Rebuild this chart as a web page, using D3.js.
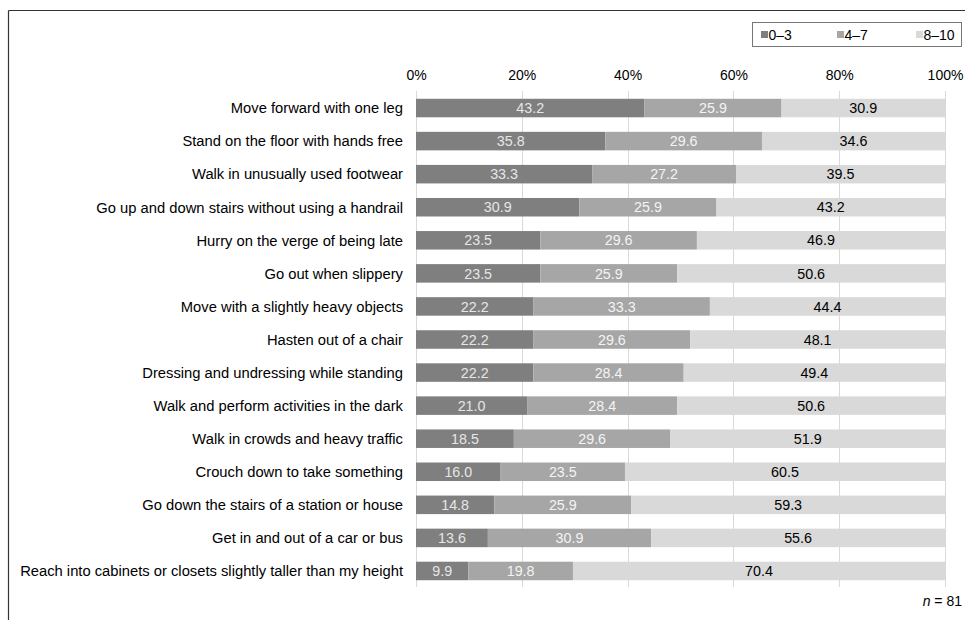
<!DOCTYPE html>
<html><head><meta charset="utf-8">
<script src="https://cdn.jsdelivr.net/npm/d3@7"></script>
<style>body{margin:0;background:#fff}svg{display:block;font-family:"Liberation Sans",Arial,sans-serif}</style>
</head><body>
<svg id="c" width="965" height="620"></svg>
<script>
const categories = [
  "Move forward with one leg",
  "Stand on the floor with hands free",
  "Walk in unusually used footwear",
  "Go up and down stairs without using a handrail",
  "Hurry on the verge of being late",
  "Go out when slippery",
  "Move with a slightly heavy objects",
  "Hasten out of a chair",
  "Dressing and undressing while standing",
  "Walk and perform activities in the dark",
  "Walk in crowds and heavy traffic",
  "Crouch down to take something",
  "Go down the stairs of a station or house",
  "Get in and out of a car or bus",
  "Reach into cabinets or closets slightly taller than my height"
];
const seriesNames = ["0\u20133", "4\u20137", "8\u201310"];
const low  = [43.2, 35.8, 33.3, 30.9, 23.5, 23.5, 22.2, 22.2, 22.2, 21.0, 18.5, 16.0, 14.8, 13.6, 9.9];
const mid  = [25.9, 29.6, 27.2, 25.9, 29.6, 25.9, 33.3, 29.6, 28.4, 28.4, 29.6, 23.5, 25.9, 30.9, 19.8];
const high = [30.9, 34.6, 39.5, 43.2, 46.9, 50.6, 44.4, 48.1, 49.4, 50.6, 51.9, 60.5, 59.3, 55.6, 70.4];
const tickValues = [0, 20, 40, 60, 80, 100];
const nNote = "81";

const colors = ["#7f7f7f", "#a6a6a6", "#d9d9d9"];
const textColors = ["#e6e6e6", "#f4f4f4", "#000"];

const svg = d3.select("#c");
const x = d3.scaleLinear().domain([0, 100]).range([416, 945]);
const y = d3.scaleBand().domain(categories).range([91.5, 587.5]).paddingInner(0.44).paddingOuter(0.22);

// frame
svg.append("line").attr("x1", 8.5).attr("x2", 965).attr("y1", 10.5).attr("y2", 10.5).attr("stroke", "#333").attr("stroke-width", 1.2);
svg.append("line").attr("x1", 8.5).attr("x2", 8.5).attr("y1", 10.5).attr("y2", 620).attr("stroke", "#333").attr("stroke-width", 1.2);

// grid
svg.append("g").selectAll("line").data(tickValues).join("line")
  .attr("x1", d => Math.round(x(d)) + 0.5).attr("x2", d => Math.round(x(d)) + 0.5)
  .attr("y1", 91).attr("y2", 587).attr("stroke", "#d9d9d9").attr("stroke-width", 1);

// top axis
const ax = svg.append("g").attr("transform", "translate(0,91)")
  .call(d3.axisTop(x).tickValues(tickValues).tickFormat(d => d + "%").tickSize(0).tickPadding(11));
ax.select(".domain").remove();
ax.selectAll("text").attr("font-size", 14).attr("fill", "#000").attr("font-family", "Liberation Sans, Arial, sans-serif");

// stacked data
const rows = categories.map((c, i) => {
  const vals = [low[i], mid[i], high[i]];
  const tot = vals[0] + vals[1] + vals[2];
  let acc = 0;
  return vals.map((v, k) => {
    const s = { cat: c, k, v, x0: acc / tot * 100, x1: (acc + v) / tot * 100 };
    acc += v;
    return s;
  });
});
const segs = rows.flat();

svg.append("g").selectAll("rect").data(segs).join("rect")
  .attr("x", d => x(d.x0)).attr("width", d => x(d.x1) - x(d.x0))
  .attr("y", d => y(d.cat)).attr("height", y.bandwidth())
  .attr("fill", d => colors[d.k]);

svg.append("g").selectAll("text").data(segs).join("text")
  .attr("x", d => (x(d.x0) + x(d.x1)) / 2)
  .attr("y", d => y(d.cat) + y.bandwidth() / 2)
  .attr("dy", "0.36em").attr("text-anchor", "middle")
  .attr("font-size", 14.3).attr("fill", d => textColors[d.k])
  .text(d => d.v.toFixed(1));

// category labels
svg.append("g").selectAll("text").data(categories).join("text")
  .attr("x", 403).attr("y", d => y(d) + y.bandwidth() / 2).attr("dy", "0.36em")
  .attr("text-anchor", "end").attr("font-size", 14.75).attr("fill", "#000").text(d => d);

// legend
svg.append("rect").attr("x", 752.5).attr("y", 22.5).attr("width", 209).attr("height", 24)
  .attr("fill", "#fff").attr("stroke", "#777").attr("stroke-width", 1);
const lx = [761, 837, 916];
const lg = svg.append("g").selectAll("g").data(seriesNames).join("g")
  .attr("transform", (d, i) => `translate(${lx[i]},34.5)`);
lg.append("rect").attr("x", 0).attr("y", -3.5).attr("width", 7).attr("height", 7).attr("fill", (d, i) => colors[i]);
lg.append("text").attr("x", 7.5).attr("dy", "0.36em").attr("font-size", 14).attr("fill", "#000").text(d => d);

// n note
const nt = svg.append("text").attr("x", 962).attr("y", 606).attr("text-anchor", "end").attr("font-size", 14).attr("fill", "#000");
nt.append("tspan").attr("font-style", "italic").text("n");
nt.append("tspan").text(" = " + nNote);
</script>
</body></html>
